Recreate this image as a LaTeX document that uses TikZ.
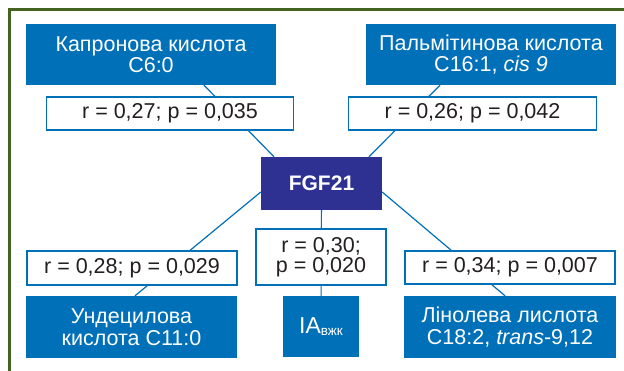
\documentclass[tikz,border=0pt]{standalone}
\usepackage{fontspec}
\setmainfont{Liberation Sans}
\usetikzlibrary{positioning}
\definecolor{acidblue}{RGB}{0,112,185}
\definecolor{hubblue}{RGB}{46,49,146}
\definecolor{framegreen}{RGB}{68,98,32}
\definecolor{statgray}{RGB}{35,31,32}

\begin{document}
\begin{tikzpicture}[
    x=1pt, y=1pt,
    acid/.style={rectangle, fill=acidblue, text=white, inner sep=0pt,
        minimum width=250pt, minimum height=61pt, align=center,
        font=\fontsize{21.5}{21.5}\selectfont},
    hub/.style={rectangle, fill=hubblue, text=white, inner sep=0pt,
        minimum width=121pt, minimum height=53pt,
        font=\bfseries\fontsize{21}{22}\selectfont},
    stat/.style={rectangle, draw=acidblue, line width=1.5pt, fill=white,
        text=statgray, inner sep=0pt, minimum width=210pt,
        minimum height=33pt, align=center,
        font=\fontsize{21.5}{20}\selectfont},
    link/.style={acidblue, line width=1.2pt}
]
    \useasboundingbox (0,0) rectangle (624,371);
    % frame
    \draw[framegreen, line width=3pt] (624,361.5) -- (9.5,361.5) -- (9.5,0);

    \node[acid] (kapron) at (151,316.5) {Капронова кислота\\C6:0};
    \node[acid] (palm) at (491,316.5) {Пальмітинова кислота\\C16:1, \textit{cis 9}};
    \node[hub] (fgf) at (321.5,187.5) {FGF21};
    \node[acid, minimum width=211pt, minimum height=62pt] (undec) at (131.5,44)
        {Ундецилова\\кислота C11:0};
    \node[acid, minimum width=76pt] (iavzk) at (321,44.5)
        {\fontsize{23}{23}\selectfont IA\raisebox{-1.5pt}{\fontsize{13.5}{13.5}\selectfont вжк}};
    \node[acid, minimum width=212pt, minimum height=62pt] (linol) at (510,44)
        {Лінолева лислота\\C18:2, \textit{trans}-9,12};

    \draw[link] ([xshift=53pt]kapron.south) -- ([xshift=-47.5pt]fgf.north);
    \draw[link] ([xshift=-51pt]palm.south) -- ([xshift=47.5pt]fgf.north);
    \draw[link] ([yshift=-8.5pt]fgf.west) -- ([xshift=3.5pt]undec.north);
    \draw[link] ([yshift=-8.5pt]fgf.east) -- ([xshift=-5pt]linol.north);
    \draw[link] (fgf) -- (iavzk);

    \node[stat, minimum width=247pt, below=11pt of kapron, xshift=19pt] (rkapron)
        {r = 0,27; p = 0,035};
    \node[stat, minimum width=248pt, below=11pt of palm, xshift=-18.5pt] (rpalm)
        {r = 0,26; p = 0,042};
    \node[stat, minimum height=34pt, above=10pt of undec, xshift=0.5pt] (rundec)
        {r = 0,28; p = 0,029};
    \node[stat, above=11pt of linol] (rlinol) {r = 0,34; p = 0,007};
    \node[stat, minimum width=130pt, minimum height=56pt, above=10pt of iavzk]
        (riavzk) {r = 0,30;\\p = 0,020};
\end{tikzpicture}
\end{document}
